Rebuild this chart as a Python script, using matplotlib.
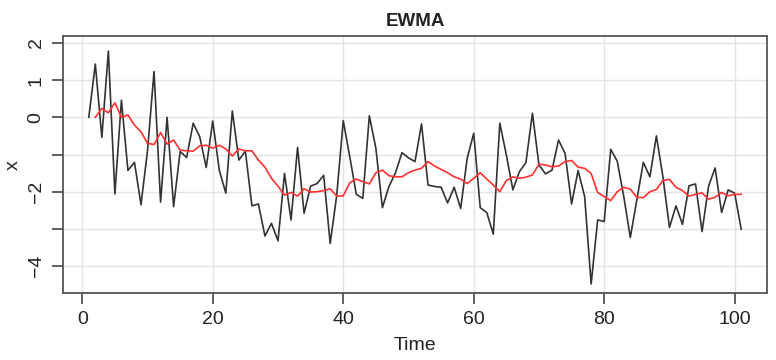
import numpy as np
import matplotlib
matplotlib.use("Agg")
import matplotlib.pyplot as plt

plt.rcParams['font.family'] = ['Liberation Sans', 'DejaVu Sans']

######## series
time_x = list(range(1, 102))
x_vals = [0.0, 1.43, -0.54, 1.78, -2.06, 0.46, -1.43, -1.21, -2.35, -0.9,
          1.23, -2.28, 0.0, -2.4, -0.92, -1.08, -0.16, -0.52, -1.35, -0.1,
          -1.42, -2.04, 0.17, -1.15, -0.91, -2.38, -2.33, -3.19, -2.85, -3.32,
          -1.51, -2.76, -0.81, -2.58, -1.85, -1.78, -1.56, -3.39, -2.1, -0.09,
          -1.06, -2.07, -2.18, 0.04, -0.83, -2.43, -1.86, -1.5, -0.95, -1.09,
          -1.19, -0.18, -1.82, -1.86, -1.88, -2.3, -1.88, -2.45, -1.1, -0.43,
          -2.43, -2.56, -3.14, -0.16, -1.01, -1.95, -1.46, -1.22, 0.11, -1.28,
          -1.52, -1.42, -0.61, -0.97, -2.33, -1.43, -2.13, -4.48, -2.76, -2.8,
          -0.86, -1.18, -2.13, -3.23, -2.22, -1.21, -1.6, -0.5, -1.6, -2.96,
          -2.38, -2.88, -1.84, -1.79, -3.07, -1.85, -1.36, -2.56, -1.95, -2.04,
          -3.01]

time_ewma = list(range(2, 102))
ewma_vals = [0.0, 0.24, 0.12, 0.39, 0.0, 0.06, -0.21, -0.39, -0.7, -0.73,
             -0.41, -0.72, -0.61, -0.88, -0.9, -0.91, -0.77, -0.75, -0.83, -0.75,
             -0.85, -1.04, -0.85, -0.9, -0.9, -1.15, -1.34, -1.64, -1.85, -2.09,
             -2.02, -2.12, -1.92, -2.01, -2.0, -1.97, -1.92, -2.12, -2.11, -1.76,
             -1.66, -1.73, -1.79, -1.49, -1.42, -1.57, -1.6, -1.6, -1.49, -1.42,
             -1.37, -1.19, -1.31, -1.4, -1.49, -1.6, -1.66, -1.78, -1.64, -1.49,
             -1.66, -1.82, -2.0, -1.7, -1.6, -1.64, -1.61, -1.55, -1.26, -1.28,
             -1.33, -1.31, -1.19, -1.16, -1.34, -1.37, -1.51, -2.02, -2.13, -2.24,
             -2.0, -1.88, -1.93, -2.15, -2.16, -2.0, -1.94, -1.7, -1.67, -1.88,
             -1.97, -2.12, -2.07, -2.03, -2.2, -2.15, -2.02, -2.11, -2.07, -2.07]

x_ticks = [0, 20, 40, 60, 80, 100]
y_ticks = [-4, -3, -2, -1, 0, 1, 2]
y_ticklabels = ['\u22124', '', '\u22122', '', '0', '1', '2']

######## plot
fig = plt.figure(figsize=(7.76, 3.6), dpi=100)
ax = fig.add_axes([0.0808, 0.1853, 0.908, 0.7147])

ax.grid(True, color='#e3e3e3', linewidth=1.0)
ax.set_axisbelow(True)

ax.plot(time_x, x_vals, color='#333333', linewidth=1.2)
ax.plot(time_ewma, ewma_vals, color='#ff3030', linewidth=1.2)

ax.set_xlim(-3.0, 105.0)
ax.set_ylim(-4.73, 2.185)
ax.set_xticks(x_ticks)
ax.set_yticks(y_ticks)
ax.set_yticklabels(y_ticklabels)

for s in ax.spines.values():
    s.set_color('#555555')
    s.set_linewidth(1.3)

ax.tick_params(axis='both', direction='out', length=8, width=1.3, color='#555555',
               labelsize=14, labelcolor='#222222', pad=5)
plt.setp(ax.get_yticklabels(), rotation=90, va='center')

ax.set_xlabel('Time', fontsize=14, color='#222222', labelpad=6.5)
ax.set_ylabel('x', fontsize=14, color='#222222', labelpad=4)
ax.set_title('EWMA', fontsize=13.5, fontweight='bold', color='#222222', pad=7)

fig.savefig('out.png', dpi=100)
